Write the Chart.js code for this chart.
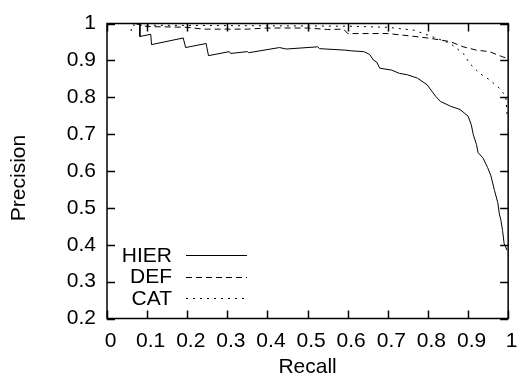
<!DOCTYPE html>
<html>
<head>
<meta charset="utf-8">
<script src="https://cdn.jsdelivr.net/npm/chart.js@4/dist/chart.umd.min.js"></script>
<style>
html,body{margin:0;padding:0;background:#fff;}
#wrap{width:524px;height:380px;position:relative;}
</style>
</head>
<body>
<div id="wrap"><canvas id="c" width="524" height="380"></canvas></div>
<script>
const seriesNames = ["HIER", "DEF", "CAT"];
const xTitle = "Recall";
const yTitle = "Precision";
const xTickLabels = ["0","0.1","0.2","0.3","0.4","0.5","0.6","0.7","0.8","0.9","1"];
const yTickLabels = ["0.2","0.3","0.4","0.5","0.6","0.7","0.8","0.9","1"];

const hierRecall = [0.082,0.082,0.109,0.111,0.190,0.196,0.247,0.253,0.305,0.308,0.350,0.353,0.430,0.447,0.525,0.530,0.594,0.610,0.640,0.648,0.655,0.664,0.672,0.680,0.709,0.729,0.749,0.774,0.798,0.819,0.831,0.856,0.880,0.900,0.908,0.913,0.921,0.925,0.937,0.949,0.957,0.966,0.974,0.978,0.982,0.986,0.990,0.994,0.997];
const hierPrecision = [1.000,0.965,0.971,0.943,0.961,0.935,0.946,0.913,0.924,0.919,0.924,0.921,0.935,0.931,0.937,0.932,0.928,0.926,0.924,0.920,0.916,0.901,0.896,0.879,0.874,0.865,0.861,0.852,0.834,0.803,0.789,0.776,0.767,0.749,0.726,0.699,0.672,0.650,0.636,0.609,0.587,0.547,0.515,0.484,0.466,0.439,0.403,0.394,0.385];

const defRecall = [0.070,0.100,0.200,0.240,0.350,0.400,0.500,0.550,0.590,0.600,0.700,0.760,0.806,0.856,0.888,0.921,0.953,0.986,1.000];
const defPrecision = [1.000,0.992,0.990,0.985,0.985,0.988,0.988,0.984,0.985,0.973,0.973,0.966,0.960,0.951,0.937,0.928,0.924,0.910,0.905];

const catRecall = [0.060,0.062,0.200,0.400,0.600,0.700,0.766,0.822,0.856,0.888,0.904,0.929,0.953,0.978,0.994,0.998];
const catPrecision = [0.980,0.996,0.995,0.994,0.993,0.990,0.982,0.960,0.946,0.919,0.892,0.865,0.848,0.825,0.803,0.745];

function pts(xs, ys){ return xs.map((x,i)=>({x:x, y:ys[i]})); }

const FONT = "'Liberation Sans', Arial, sans-serif";
const FS = 21;

const framePlugin = {
  id: 'frame',
  afterDatasetsDraw(chart){
    const {ctx, chartArea:a, scales} = chart;
    const xs = scales.x, ys = scales.y;
    ctx.save();
    ctx.strokeStyle = '#000';
    ctx.lineWidth = 1.5;
    ctx.beginPath();
    ctx.rect(a.left, a.top, a.right - a.left, a.bottom - a.top);
    ctx.stroke();
    const L = 8;
    ctx.beginPath();
    xs.ticks.forEach(t=>{
      const px = Math.round(xs.getPixelForValue(t.value)) + 0.5;
      ctx.moveTo(px, a.bottom); ctx.lineTo(px, a.bottom - L);
      ctx.moveTo(px, a.top); ctx.lineTo(px, a.top + L);
    });
    ys.ticks.forEach(t=>{
      const py = Math.round(ys.getPixelForValue(t.value)) + 0.5;
      ctx.moveTo(a.left, py); ctx.lineTo(a.left + L, py);
      ctx.moveTo(a.right, py); ctx.lineTo(a.right - L, py);
    });
    ctx.stroke();
    // y axis title (rotated)
    ctx.font = FS + 'px ' + FONT;
    ctx.fillStyle = '#000';
    ctx.save();
    ctx.translate(19, 178);
    ctx.rotate(-Math.PI/2);
    ctx.textAlign = 'center';
    ctx.textBaseline = 'middle';
    ctx.fillText(yTitle, 0, 0);
    ctx.restore();
    // legend inside bottom-left
    ctx.textAlign = 'right';
    ctx.textBaseline = 'middle';
    const textRight = 172, lx0 = 186, lx1 = 247;
    const y0 = 255, dy = 21.7;
    chart.data.datasets.forEach((ds, i)=>{
      const y = y0 + i*dy;
      ctx.fillText(ds.label, textRight, y + 1);
      ctx.save();
      ctx.strokeStyle = ds.borderColor;
      ctx.lineWidth = ds.borderWidth;
      ctx.setLineDash(ds.borderDash || []);
      ctx.beginPath();
      ctx.moveTo(lx0, Math.round(y)+0.5);
      ctx.lineTo(lx1, Math.round(y)+0.5);
      ctx.stroke();
      ctx.restore();
    });
    ctx.restore();
  }
};

new Chart(document.getElementById('c'), {
  type: 'line',
  data: {
    datasets: [
      {label: seriesNames[0], data: pts(hierRecall, hierPrecision), borderColor:'#000', borderWidth:1, pointRadius:0, fill:false, tension:0},
      {label: seriesNames[1], data: pts(defRecall, defPrecision), borderColor:'#000', borderWidth:1, borderDash:[6,4], pointRadius:0, fill:false, tension:0},
      {label: seriesNames[2], data: pts(catRecall, catPrecision), borderColor:'#000', borderWidth:1, borderDash:[2,5], pointRadius:0, fill:false, tension:0}
    ]
  },
  options: {
    responsive: false,
    animation: false,
    events: [],
    layout: {padding: {left:0, right:8, top:21.5, bottom:0}},
    plugins: {legend:{display:false}, tooltip:{enabled:false}},
    scales: {
      x: {
        type: 'linear', min: 0, max: 1,
        border: {display:false},
        grid: {display:false, drawTicks:false},
        ticks: {stepSize:0.1, padding:10, labelOffset:3.5, color:'#000', font:{family:FONT, size:FS}, maxRotation:0,
          callback: (v, i) => xTickLabels[i]},
        title: {display:true, text:xTitle, color:'#000', font:{family:FONT, size:FS}, padding:{top:0, bottom:0}},
        afterFit: s => { s.height = 61.5; }
      },
      y: {
        type: 'linear', min: 0.2, max: 1,
        border: {display:false},
        grid: {display:false, drawTicks:false},
        ticks: {stepSize:0.1, padding:11, color:'#000', font:{family:FONT, size:FS},
          callback: (v, i) => yTickLabels[i]},
        title: {display:false},
        afterFit: s => { s.width = 107; }
      }
    }
  },
  plugins: [framePlugin]
});
</script>
</body>
</html>
